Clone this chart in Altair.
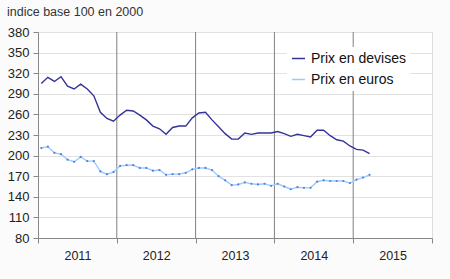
import altair as alt
import pandas as pd

years = [2011, 2012, 2013, 2014, 2015]
series_names = ["Prix en devises", "Prix en euros"]

devises = [305, 314, 308, 315, 301, 297, 304, 297, 287, 263, 254, 250,
           259, 266, 265, 259, 252, 243, 239, 231, 241, 243, 243, 255,
           262, 263, 252, 242, 232, 224, 224, 233, 231, 233, 233, 233,
           235, 232, 228, 231, 229, 227, 237, 237, 229, 223, 221, 214,
           209, 208, 203]

euros = [211, 213, 204, 202, 194, 191, 198, 192, 192, 177, 173, 176,
         185, 186, 186, 182, 182, 178, 179, 172, 173, 173, 175, 180,
         182, 182, 179, 170, 164, 157, 158, 161, 159, 158, 159, 156,
         159, 155, 151, 154, 153, 153, 162, 164, 163, 163, 163, 160,
         165, 168, 172]

y_ticks = list(range(80, 381, 30))

rows = []
for i, v in enumerate(devises):
    rows.append({"m": i + 0.5, "v": v, "s": series_names[0]})
for i, v in enumerate(euros):
    rows.append({"m": i + 0.5, "v": v, "s": series_names[1]})
df = pd.DataFrame(rows)

boundaries = pd.DataFrame({"b": [12 * k for k in range(1, len(years))]})
x_vals = [12 * k for k in range(len(years) + 1)]

x_scale = alt.Scale(domain=[0, 12 * len(years)], nice=False, zero=False)
y_scale = alt.Scale(domain=[80, 380], nice=False, zero=False)

x_axis = alt.Axis(
    values=x_vals,
    labelExpr="datum.value < 60 ? '' + (2011 + datum.value / 12) : ''",
    labelOffset=39.4,
    labelFlush=False,
    labelOverlap=False,
    grid=False,
    domainColor="#888888",
    tickColor="#888888",
    tickSize=5,
    labelPadding=6,
    labelFontSize=12.5,
    labelColor="#222222",
    labelFont="Liberation Sans",
    title=None,
)
y_axis = alt.Axis(
    values=y_ticks,
    grid=True,
    gridColor="#e2e2e2",
    domainColor="#888888",
    tickColor="#888888",
    tickSize=5,
    labelPadding=4,
    labelOverlap=False,
    labelFontSize=13,
    labelColor="#222222",
    labelFont="Liberation Sans",
    title=None,
)

color_scale = alt.Scale(domain=series_names, range=["#333399", "#99ccff"])

rules = alt.Chart(boundaries).mark_rule(color="#808080", strokeWidth=1).encode(
    x=alt.X("b:Q", scale=x_scale, axis=x_axis),
)

lines = alt.Chart(df).mark_line(strokeWidth=1.4).encode(
    x=alt.X("m:Q", scale=x_scale, axis=x_axis),
    y=alt.Y("v:Q", scale=y_scale, axis=y_axis),
    color=alt.Color(
        "s:N",
        scale=color_scale,
        sort=series_names,
        legend=alt.Legend(
            title=None,
            orient="none",
            legendX=249,
            legendY=15,
            fillColor="white",
            padding=4,
            labelFontSize=14,
            labelFont="Liberation Sans",
            labelColor="#111111",
            symbolType="stroke",
            symbolSize=169,
            symbolStrokeWidth=1.5,
            labelOffset=5,
            rowPadding=6,
            labelLimit=200,
        ),
    ),
)

points = alt.Chart(df).transform_filter(
    alt.datum.s == series_names[1]
).mark_point(filled=True, size=5, color="#5b7fd6", opacity=1).encode(
    x=alt.X("m:Q", scale=x_scale, axis=x_axis),
    y=alt.Y("v:Q", scale=y_scale, axis=y_axis),
)

chart = alt.layer(rules, lines, points).properties(
    width=394,
    height=206,
    padding={"left": 38, "top": 32, "right": 18, "bottom": 41},
    autosize=alt.AutoSizeParams(type="none"),
    background="#fbfbfb",
    title=alt.TitleParams(
        "indice base 100 en 2000",
        anchor="start",
        frame="group",
        dx=-31,
        offset=8,
        fontSize=12.5,
        fontWeight="normal",
        font="Liberation Sans",
        color="#333333",
    ),
).configure_view(fill="white", stroke="#dddddd").configure_axis(labelOverlap=False)

chart.save("out.html", embed_options={"renderer": "svg", "actions": False})
